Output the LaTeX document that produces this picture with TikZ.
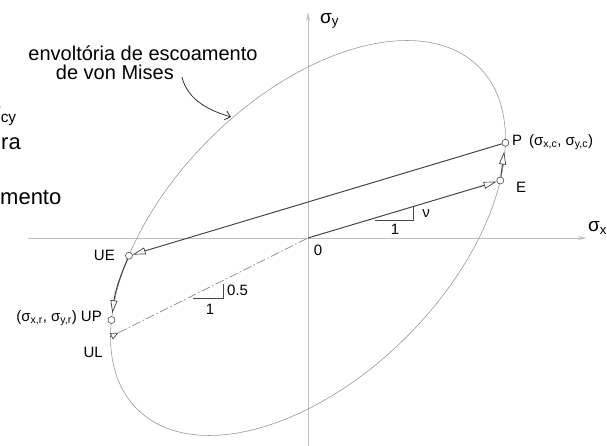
\documentclass[tikz,border=0pt]{standalone}
\usepackage{fontspec}
\setmainfont{Liberation Sans}
\usetikzlibrary{arrows.meta,positioning}
\tikzset{
  envline/.style  = {gray!80, line width=0.6pt},
  loadpath/.style = {-{Triangle[length=13pt,width=7pt,fill=white,line width=0.7pt]}, gray!55!black, line width=1pt},
  dashpath/.style = {gray!85, line width=0.7pt, dash pattern=on 9pt off 2.5pt on 1.5pt off 2.5pt},
  ulmark/.style   = {-{Triangle[length=8pt,width=7pt,fill=white,line width=0.7pt]}, gray!55!black, line width=0.7pt},
  axisline/.style = {-{Stealth[open,length=9pt,width=4pt]}, gray!50, line width=0.7pt},
  ptmark/.style   = {circle, draw=gray!55!black, fill=white, inner sep=0pt, minimum size=7pt, line width=0.6pt},
  slopeline/.style= {gray!55!black, line width=0.5pt},
  lbl/.style      = {font=\fontsize{15}{17}\selectfont, inner sep=1pt},
  axlbl/.style    = {font=\fontsize{19}{21}\selectfont, inner sep=1pt},
  notelbl/.style  = {font=\fontsize{20}{22}\selectfont, inner sep=0pt},
  cutlbl/.style   = {font=\fontsize{22}{24}\selectfont, inner sep=0pt}
}
\begin{document}
\begin{tikzpicture}[x=1pt,y=1pt]
  \useasboundingbox (-308,-208) rectangle (299,238);
  \clip (-308,-208) rectangle (299,238);
  % text running in from the left of the page
  \node[cutlbl, anchor=base west] (cut1) at (-321,119) {σ\textsubscript{cy}};
  \node[cutlbl, anchor=base west] (cut2) at (-307,88) {ra};
  \node[cutlbl, anchor=base west] (cut3) at (-308,33) {mento};
  \draw[axisline] (-280,0) -- (279,0);
  \draw[axisline] (0,-210) -- (0,226);
  \node[axlbl, anchor=west] (sx) at (279,10) {σ\textsubscript{x}};
  \node[axlbl, anchor=west] (sy) at (11,217) {σ\textsubscript{y}};
  \draw[envline] (0,0) ellipse[x radius=241.8, y radius=139.6, rotate=45];
  \coordinate (O) at (0,0);
  \coordinate (UL) at (-197.5,-98.75);
  \coordinate (ULtip) at (-189.5,-94.75);
  \coordinate (envpt) at (-77,121);
  \foreach \nm/\x/\y in {P/197.4/95.2, E/192.3/57.5, UE/-179/-17.7, UP/-196.5/-82}
    { \node[ptmark] (\nm) at (\x,\y) {}; }
  \draw[loadpath] (O) -- (E);
  \draw[loadpath, shorten >=5pt] (E) -- (P);
  \draw[loadpath] (P) -- (UE);
  \draw[loadpath, black!75, shorten >=3pt] (UE) to[bend right=8] (UP);
  \draw[dashpath] (ULtip) -- (O);
  \draw[ulmark] (UL) -- (ULtip);
  \draw[slopeline] (67,18) -- (105,18) -- (105,31);
  \draw[slopeline] (-115,-60) -- (-85,-60) -- (-85,-46);
  \node[lbl] (one1) at (87,9) {1};
  \node[lbl] (nu) at (118,24) {ν};
  \node[lbl] (one2) at (-98,-71) {1};
  \node[lbl, anchor=west] (half) at (-82,-52) {0.5};
  \node[lbl] (Olbl) at (10,-12) {0};
  \node[lbl] (Elbl) at (213,51) {E};
  \node[lbl, anchor=west] (Plbl) at (203,96) {P\hspace{7pt}(σ\textsubscript{x,c}, σ\textsubscript{y,c})};
  \node[lbl, anchor=east] (UElbl) at (-192,-17) {UE};
  \node[lbl, anchor=east] (UPlbl) at (-205,-80) {(σ\textsubscript{x,r}, σ\textsubscript{y,r}) UP};
  \node[lbl, anchor=east] (ULlbl) at (-204,-114) {UL};
  \node[notelbl] (note1) at (-165,185) {envoltória de escoamento};
  \node[notelbl, below left=4pt and -31pt of note1.south] (note2) {de von Mises};
  \draw[envline, -{Straight Barb[length=5pt,width=9pt]}, line width=0.8pt, black!80]
    ([xshift=8pt,yshift=-5pt]note2.east) .. controls +(6,-24) and +(-20,6) .. (envpt);
\end{tikzpicture}
\end{document}
